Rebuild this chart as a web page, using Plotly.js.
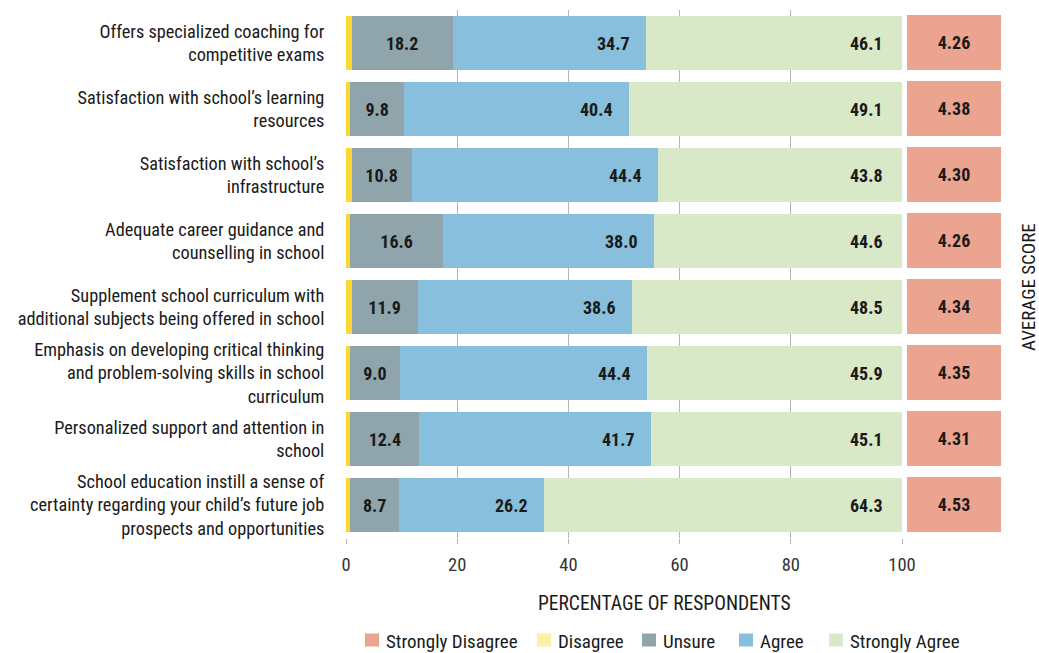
<!DOCTYPE html>
<html>
<head>
<meta charset="utf-8">
<script src="https://cdn.plot.ly/plotly-3.0.1.min.js"></script>
<style>
  html, body { margin: 0; padding: 0; background: #fff; }
  #chart { width: 1039px; height: 653px; }
</style>
</head>
<body>
<div id="chart"></div>
<script>
// Survey statements (top to bottom)
const statements = [
  "Offers specialized coaching for<br>competitive exams",
  "Satisfaction with school’s learning<br>resources",
  "Satisfaction with school’s<br>infrastructure",
  "Adequate career guidance and<br>counselling in school",
  "Supplement school curriculum with<br>additional subjects being offered in school",
  "Emphasis on developing critical thinking<br>and problem-solving skills in school<br>curriculum",
  "Personalized support and attention in<br>school",
  "School education instill a sense of<br>certainty regarding your child’s future job<br>prospects and opportunities"
];

// Share of respondents per answer (%)
const stronglyDisagree = [0, 0, 0, 0, 0, 0, 0, 0];
const disagree         = [1.0, 0.7, 1.0, 0.8, 1.0, 0.7, 0.8, 0.8];
const unsure           = [18.2, 9.8, 10.8, 16.6, 11.9, 9.0, 12.4, 8.7];
const agree            = [34.7, 40.4, 44.4, 38.0, 38.6, 44.4, 41.7, 26.2];
const stronglyAgree    = [46.1, 49.1, 43.8, 44.6, 48.5, 45.9, 45.1, 64.3];

// Average score per statement
const averageScore = [4.26, 4.38, 4.30, 4.26, 4.34, 4.35, 4.31, 4.53];

const xTicks = [0, 20, 40, 60, 80, 100];
const answerNames = ["Strongly Disagree", "Disagree", "Unsure", "Agree", "Strongly Agree"];

const FONT = "'Liberation Sans Narrow', 'Roboto Condensed', Roboto, 'DejaVu Sans Condensed', sans-serif";
const INK = "#1a1a1a";

const barColors = ["#eba490", "#fdd835", "#8fa5ab", "#87bfdc", "#d9e8c6"];
const keyColors = ["#eba490", "#fdeeab", "#8fa5ab", "#87bfdc", "#d9e8c6"];

const seriesValues = [stronglyDisagree, disagree, unsure, agree, stronglyAgree];

const traces = seriesValues.map((vals, i) => ({
  type: "bar",
  orientation: "h",
  name: answerNames[i],
  x: vals,
  y: statements,
  marker: { color: barColors[i], line: { width: 0 } },
  // "Unsure" values sit centred inside their segment
  text: i === 2 ? vals.map(v => v.toFixed(1)) : undefined,
  textposition: i === 2 ? "inside" : "none",
  insidetextanchor: "middle",
  textangle: 0,
  textfont: { family: FONT, size: 18, color: INK, weight: "bold" },
  hovertemplate: "%{x:.1f}%<extra>" + answerNames[i] + "</extra>",
  showlegend: false,
  xaxis: "x",
  yaxis: "y"
}));

// Average score column
traces.push({
  type: "heatmap",
  x: [0],
  y: statements,
  z: averageScore.map(v => [v]),
  colorscale: [[0, "#eba490"], [1, "#eba490"]],
  showscale: false,
  ygap: 11,
  texttemplate: "%{z:.2f}",
  textfont: { family: FONT, size: 18, color: INK, weight: "bold" },
  hovertemplate: "%{z:.2f}<extra>Average score</extra>",
  xaxis: "x2",
  yaxis: "y"
});

const L = 346, R = 38, T = 10, B = 115;
const W = 1039 - L - R;
const H = 653 - T - B;
const px2x = p => (p - L) / W;
const px2y = p => (653 - B - p) / H;

// "Agree" and "Strongly Agree" values sit near the right end of their segment
const annotations = [];
statements.forEach((s, r) => {
  const endAgree = stronglyDisagree[r] + disagree[r] + unsure[r] + agree[r];
  const endStrong = endAgree + stronglyAgree[r];
  [[endAgree, agree[r], -14], [endStrong, stronglyAgree[r], -17]].forEach(([xEnd, v, shift]) => {
    annotations.push({
      xref: "x", yref: "y",
      x: xEnd, y: s,
      text: "<b>" + v.toFixed(1) + "</b>",
      xanchor: "right", yanchor: "middle",
      xshift: shift,
      showarrow: false,
      font: { family: FONT, size: 18, color: INK }
    });
  });
});

annotations.push(
  {
    text: "PERCENTAGE OF RESPONDENTS",
    xref: "paper", yref: "paper",
    x: px2x(664), y: px2y(603),
    xanchor: "center", yanchor: "middle",
    showarrow: false,
    font: { family: FONT, size: 19.5, color: INK }
  },
  {
    text: "AVERAGE SCORE",
    xref: "paper", yref: "paper",
    x: px2x(1028), y: px2y(287),
    xanchor: "center", yanchor: "middle",
    textangle: -90,
    showarrow: false,
    font: { family: FONT, size: 19, color: INK }
  }
);

// Colour key below the chart
const keyLeft = [365, 537, 642, 739, 829];
const keyY = 640;
const shapes = [];
answerNames.forEach((name, i) => {
  shapes.push({
    type: "rect",
    xref: "paper", yref: "paper",
    x0: px2x(keyLeft[i]), x1: px2x(keyLeft[i] + 14),
    y0: px2y(keyY + 6.5), y1: px2y(keyY - 6.5),
    fillcolor: keyColors[i],
    line: { width: 0 }
  });
  annotations.push({
    text: name,
    xref: "paper", yref: "paper",
    x: px2x(keyLeft[i] + 19), y: px2y(keyY + 1),
    xanchor: "left", yanchor: "middle",
    showarrow: false,
    font: { family: FONT, size: 19, color: INK }
  });
});

const layout = {
  width: 1039,
  height: 653,
  margin: { l: L, r: R, t: T, b: B, pad: 0, autoexpand: false },
  paper_bgcolor: "#fff",
  plot_bgcolor: "#fff",
  font: { family: FONT, size: 17, color: INK },
  barmode: "stack",
  bargap: 0.167,
  showlegend: false,
  xaxis: {
    domain: [0, px2x(902)],
    range: [0, 100],
    tickvals: xTicks,
    ticktext: xTicks.map(String),
    showgrid: true,
    gridcolor: "#b4b4b4",
    gridwidth: 1,
    zeroline: false,
    ticks: "outside",
    ticklen: 5,
    tickcolor: "#b4b4b4",
    ticklabelstandoff: 5,
    tickfont: { family: FONT, size: 18.5, color: "#333" },
    showline: false,
    fixedrange: true
  },
  xaxis2: {
    domain: [px2x(907), 1],
    range: [-0.5, 0.5],
    anchor: "y",
    showgrid: false,
    zeroline: false,
    showticklabels: false,
    ticks: "",
    fixedrange: true
  },
  yaxis: {
    type: "category",
    autorange: "reversed",
    showgrid: false,
    zeroline: false,
    ticks: "outside",
    ticklen: 17,
    tickcolor: "rgba(0,0,0,0)",
    tickfont: { family: FONT, size: 18.3, color: INK },
    fixedrange: true
  },
  shapes: shapes,
  annotations: annotations
};

Plotly.newPlot("chart", traces, layout, { displayModeBar: false });
</script>
</body>
</html>
